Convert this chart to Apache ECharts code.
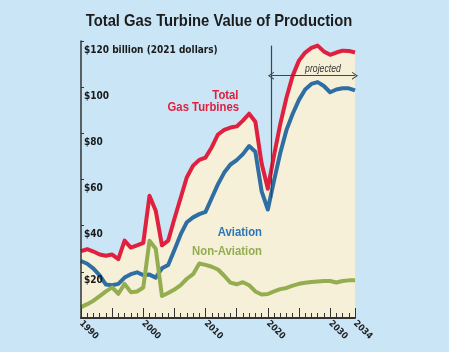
<!DOCTYPE html>
<html>
<head>
<meta charset="utf-8">
<script src="https://cdn.jsdelivr.net/npm/echarts@6/dist/echarts.min.js"></script>
<style>
html, body { margin: 0; padding: 0; background: #c9e5f6; }
#chart { width: 449px; height: 352px; }
</style>
</head>
<body>
<div id="chart"></div>
<script>
var FONT = "'Liberation Sans Narrow', 'DejaVu Sans Condensed', sans-serif";
var LABEL_FONT = "'Liberation Sans', Arial, sans-serif";

var years = [
  1990, 1991, 1992, 1993, 1994, 1995, 1996, 1997, 1998, 1999,
  2000, 2001, 2002, 2003, 2004, 2005, 2006, 2007, 2008, 2009,
  2010, 2011, 2012, 2013, 2014, 2015, 2016, 2017, 2018, 2019,
  2020, 2021, 2022, 2023, 2024, 2025, 2026, 2027, 2028, 2029,
  2030, 2031, 2032, 2033, 2034
];
// $ billion, 2021 dollars
var totalGT = [
  29, 29.8, 28.8, 27.5, 27, 27.5, 25.5, 33.5, 30.5, 31.5,
  32.5, 53, 46.5, 31.5, 33.5, 43, 52, 61, 66, 68.5,
  69.5, 74, 79.5, 81.5, 82.5, 83, 85.5, 88.5, 85, 67,
  56, 70.5, 84, 95.5, 105, 111.5, 115, 117, 118, 115.5,
  114, 115, 115.8, 115.7, 115
];
var aviation = [
  24.7, 23.5, 21.4, 18.5, 14.5, 14.2, 14.8, 17.5, 19, 19.8,
  18.6, 18.8, 17.5, 21.5, 23, 29.5, 36.2, 41.5, 43.6, 45,
  46, 52, 58, 63, 66.5, 68.4, 71, 74.5, 72, 55,
  47, 59.5, 71.5, 81.5, 88.5, 94.5, 99, 101.4, 102.2, 100.5,
  97.8, 99, 99.5, 99.5, 98.6
];
var nonAviation = [
  4.7, 6, 7.5, 9.5, 11.5, 13.3, 10.5, 14.8, 11.2, 11.5,
  13.2, 33.5, 30, 9.5, 10.8, 12.3, 14.2, 17, 19, 23.6,
  23, 22.2, 21, 18.3, 15.3, 14.6, 15.5, 14.2, 11.5, 10.2,
  10.4, 11.5, 12.5, 13, 14, 14.8, 15.3, 15.6, 15.8, 16,
  16, 15.4, 16, 16.3, 16.3
];
var xLabelYears = [1990, 2000, 2010, 2020, 2030, 2034];
var projStart = 2020.5;

var RED = '#e0203f', BLUE = '#2f6ea3', GREEN = '#93ad50';

function pairs(vals) {
  return years.map(function (y, i) { return [y, vals[i]]; });
}

// narrow-looking text: no condensed font installed, so squeeze it
function label(text, x, y, size, color, align, extra) {
  return {
    type: 'text', x: x, y: y, z: 20, scaleX: 0.87,
    style: {
      text: text, font: (extra || 'bold') + ' ' + size + 'px ' + LABEL_FONT,
      fill: color, align: align, verticalAlign: 'middle'
    }
  };
}

var chevron = 'path://M0,10 L5,0 L10,10 L8.6,10 L5,3 L1.4,10 Z';

var option = {
  backgroundColor: '#c9e5f6',
  animation: false,
  grid: { left: 81, right: 94, top: 41, bottom: 34 },
  xAxis: [
    {
      type: 'value', min: 1990, max: 2034, interval: 5, position: 'bottom', z: 5,
      axisLine: { lineStyle: { color: '#333', width: 2 } },
      axisTick: { inside: true, length: 10, lineStyle: { color: '#333', width: 1 } },
      splitLine: { show: false },
      axisLabel: {
        rotate: -45, margin: 4, fontFamily: FONT, fontWeight: 'bold', fontSize: 9, color: '#222',
        formatter: function (v) { return xLabelYears.indexOf(v) >= 0 ? String(v) : ''; }
      }
    },
    {
      type: 'value', min: 1990, max: 2034, interval: 1, position: 'bottom', offset: 0, z: 5,
      axisLine: { show: false },
      axisTick: { inside: true, length: 5, lineStyle: { color: '#333', width: 1 } },
      axisLabel: { show: false },
      splitLine: { show: false }
    }
  ],
  yAxis: {
    type: 'value', min: 0, max: 120, interval: 20, z: 5,
    axisLine: { show: true, lineStyle: { color: '#333', width: 1.5 } },
    axisTick: { show: true, inside: true, length: 3, lineStyle: { color: '#333' } },
    splitLine: { show: false },
    axisLabel: {
      inside: true, margin: 3, verticalAlign: 'top', padding: [4, 0, 0, 0],
      fontFamily: FONT, fontWeight: 'bold', fontSize: 10, color: '#1a1a1a',
      formatter: function (v) {
        if (v === 0) return '';
        if (v === 120) return '$120 billion (2021 dollars)';
        return '$' + v;
      }
    }
  },
  series: [
    {
      name: 'Total Gas Turbines', type: 'line', data: pairs(totalGT),
      symbol: 'none', lineStyle: { color: RED, width: 4, join: 'round' },
      areaStyle: { color: '#f6f0d8', opacity: 1 },
      markLine: {
        silent: true, symbol: ['none', 'none'], label: { show: false },
        lineStyle: { color: '#444', width: 1.2, type: 'solid' },
        data: [
          [{ coord: [projStart, 118] }, { coord: [projStart, 52] }],
          [{ coord: [projStart, 105], symbol: chevron, symbolSize: [8, 6] },
           { coord: [2034, 105], symbol: chevron, symbolSize: [8, 6] }]
        ]
      }
    },
    {
      name: 'Aviation', type: 'line', data: pairs(aviation),
      symbol: 'none', lineStyle: { color: BLUE, width: 4, join: 'round' }
    },
    {
      name: 'Non-Aviation', type: 'line', data: pairs(nonAviation),
      symbol: 'none', lineStyle: { color: GREEN, width: 4, join: 'round' }
    }
  ],
  graphic: [
    label('Total Gas Turbine Value of Production', 219, 21, 17, '#1c1c1c', 'center'),
    label('Total', 238.5, 95, 13, RED, 'right'),
    label('Gas Turbines', 239, 107, 13, RED, 'right'),
    label('Aviation', 262, 232, 13, '#2b76b8', 'right'),
    label('Non-Aviation', 262, 251, 13, GREEN, 'right'),
    label('projected', 323, 69, 10, '#333', 'center', 'italic')
  ]
};

var chart = echarts.init(document.getElementById('chart'));
chart.setOption(option);
</script>
</body>
</html>
